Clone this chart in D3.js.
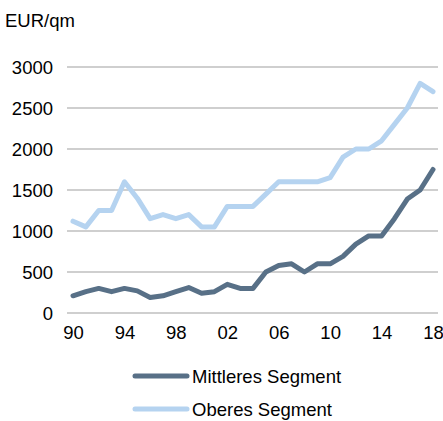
<!DOCTYPE html>
<html>
<head>
<meta charset="utf-8">
<script src="https://cdn.jsdelivr.net/npm/d3@7"></script>
<style>
  html, body { margin: 0; padding: 0; background: #fff; }
  svg text { font-family: "Liberation Sans", Arial, sans-serif; fill: #000; }
</style>
</head>
<body>
<svg id="chart" width="443" height="421"></svg>
<script>
// Price per square metre by market segment, 1990–2018
const years = d3.range(1990, 2019);
const mittleres = [210, 260, 300, 260, 300, 270, 190, 210, 260, 310, 240, 260,
                   350, 300, 300, 500, 580, 600, 500, 600, 600, 690, 840, 940,
                   940, 1150, 1390, 1500, 1750];
const oberes = [1120, 1050, 1250, 1250, 1600, 1400, 1150, 1200, 1150, 1200, 1050, 1050,
                1300, 1300, 1300, 1450, 1600, 1600, 1600, 1600, 1650, 1900, 2000, 2000,
                2100, 2300, 2500, 2800, 2700];
const yTicks = [0, 500, 1000, 1500, 2000, 2500, 3000];
const xTicks = [1990, 1994, 1998, 2002, 2006, 2010, 2014, 2018];
const seriesNames = ["Mittleres Segment", "Oberes Segment"];
const seriesColors = ["#587087", "#b5d3f0"];

const FONT = 18.5;
const svg = d3.select("#chart");

const x = d3.scaleLinear().domain([1990, 2018]).range([73, 433]);
const y = d3.scaleLinear().domain([0, 3000]).range([313, 67]);

// horizontal gridlines
svg.append("g")
  .selectAll("line")
  .data(yTicks)
  .join("line")
  .attr("x1", 67).attr("x2", 438)
  .attr("y1", d => y(d)).attr("y2", d => y(d))
  .attr("stroke", "#a0a0a0").attr("stroke-width", 1.2);

// y axis labels
const yAxis = d3.axisLeft(y).tickValues(yTicks).tickSize(0).tickPadding(0)
  .tickFormat(d3.format("d"));
svg.append("g")
  .attr("transform", "translate(53,0)")
  .call(yAxis)
  .call(g => g.select(".domain").remove())
  .call(g => g.selectAll("text")
    .attr("font-size", FONT)
    .attr("font-family", "Liberation Sans, Arial, sans-serif")
    .attr("fill", "#000")
    .attr("dy", "0.35em"));

// x axis labels (two-digit years)
const xAxis = d3.axisBottom(x).tickValues(xTicks).tickSize(0).tickPadding(0)
  .tickFormat(d => String(d % 100).padStart(2, "0"));
svg.append("g")
  .attr("transform", "translate(0,324)")
  .call(xAxis)
  .call(g => g.select(".domain").remove())
  .call(g => g.selectAll("text")
    .attr("font-size", FONT)
    .attr("font-family", "Liberation Sans, Arial, sans-serif")
    .attr("fill", "#000")
    .attr("dy", "0.8em"));

// unit label
svg.append("text")
  .attr("x", 5).attr("y", 27)
  .attr("font-size", FONT)
  .text("EUR/qm");

const line = d3.line()
  .x((d, i) => x(years[i]))
  .y(d => y(d));

// draw the upper segment first so the middle segment sits on top
[oberes, mittleres].forEach((vals, k) => {
  const idx = k === 0 ? 1 : 0;
  svg.append("path")
    .datum(vals)
    .attr("d", line)
    .attr("fill", "none")
    .attr("stroke", seriesColors[idx])
    .attr("stroke-width", 5)
    .attr("stroke-linejoin", "round")
    .attr("stroke-linecap", "round");
});

// legend
const legend = svg.append("g");
seriesNames.forEach((name, i) => {
  const ly = 376 + i * 33;
  legend.append("line")
    .attr("x1", 135).attr("x2", 187)
    .attr("y1", ly).attr("y2", ly)
    .attr("stroke", seriesColors[i])
    .attr("stroke-width", 5)
    .attr("stroke-linecap", "round");
  legend.append("text")
    .attr("x", 192).attr("y", ly)
    .attr("dy", "0.36em")
    .attr("font-size", FONT)
    .text(name);
});
</script>
</body>
</html>
